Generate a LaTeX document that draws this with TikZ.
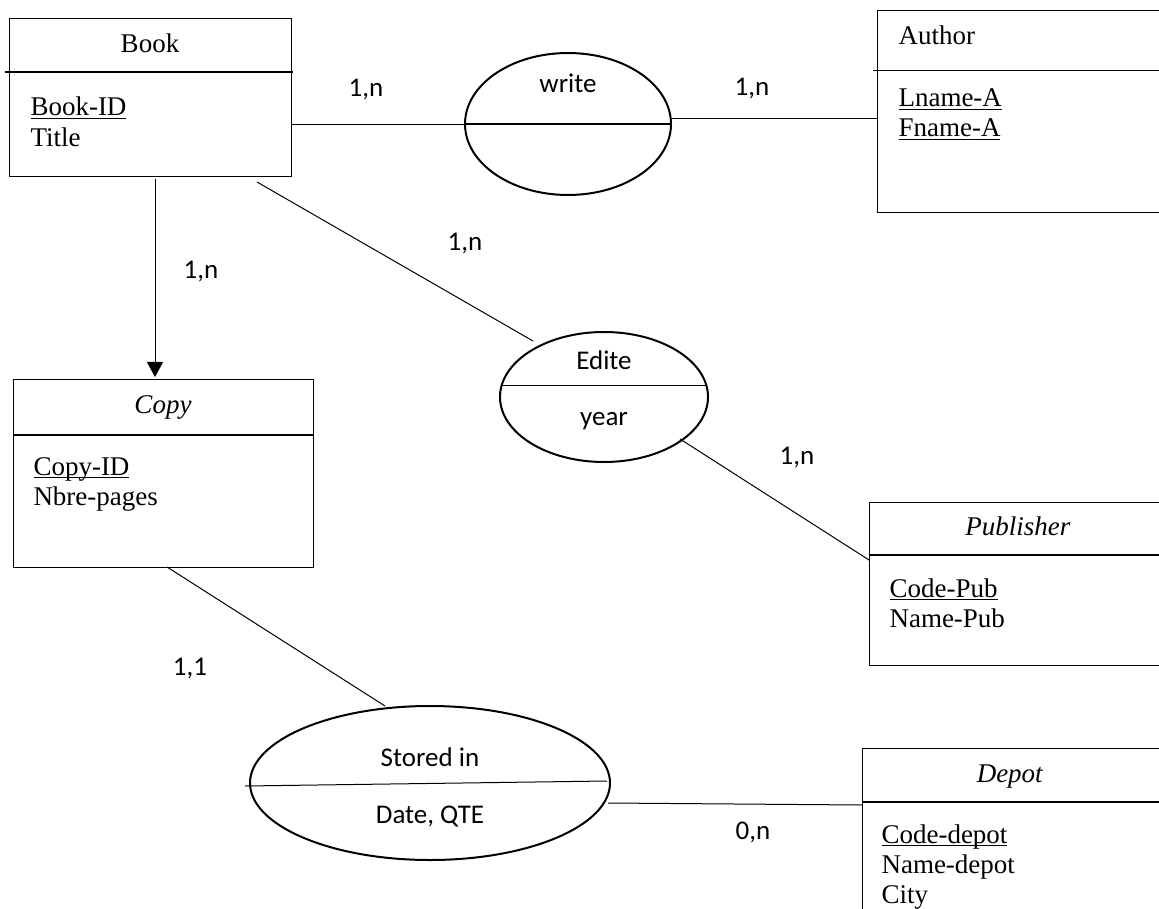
\documentclass[tikz,border=0pt]{standalone}
\usepackage{fontspec}
\setmainfont{Liberation Serif}
\newfontfamily\calibri{Carlito}
\usetikzlibrary{arrows.meta}

% 主键下划线
\newcommand{\pkey}[1]{\setbox0\hbox{#1}\rlap{\rule[-1.5pt]{\wd0}{0.6pt}}\box0}

\tikzset{
    entity/.style={font=\fontsize{13.5}{16}\selectfont, inner sep=0pt, anchor=base},
    attrib/.style={entity, anchor=base west},
    relname/.style={font=\calibri\fontsize{13.5}{16}\selectfont, inner sep=0pt, anchor=base},
    card/.style={relname},
    rel/.style={line width=1pt},
    sep/.style={line width=0.8pt},
}

\begin{document}
\begin{tikzpicture}[x=0.5pt, y=-0.5pt, line width=0.5pt]
    \useasboundingbox (0, 0) rectangle (1159, 908);

    % 实体框
    \draw (9, 19) rectangle (291, 177);
    \draw[sep] (5, 72) -- (293, 72);
    \node[entity] (book) at (150, 53) {Book};
    \node[attrib] (bookid) at (30, 116) {\pkey{Book-ID}};
    \node[attrib] (title) at (30, 147) {Title};

    \draw (877, 11) rectangle (1165, 213);
    \draw (873, 71) -- (1165, 71);
    \node[entity, anchor=base west] (author) at (898, 45) {Author};
    \node[attrib] (lname) at (898, 107) {\pkey{Lname-A}};
    \node[attrib] (fname) at (898, 137) {\pkey{Fname-A}};

    \draw (13, 379) rectangle (313, 567);
    \draw[sep] (13, 435) -- (313, 435);
    \node[entity] (copy) at (163, 413) {\textit{Copy}};
    \node[attrib] (copyid) at (33, 475) {\pkey{Copy-ID}};
    \node[attrib] (pages) at (33, 505) {Nbre-pages};

    \draw (869, 502) rectangle (1165, 665);
    \draw[sep] (869, 555) -- (1165, 555);
    \node[entity] (publisher) at (1018, 535) {\textit{Publisher}};
    \node[attrib] (codepub) at (889, 597) {\pkey{Code-Pub}};
    \node[attrib] (namepub) at (889, 627) {Name-Pub};

    \draw (1165, 748) -- (862, 748) -- (862, 915);
    \draw[sep] (862, 802) -- (1165, 802);
    \node[entity] (depot) at (1010, 782) {\textit{Depot}};
    \node[attrib] (codedepot) at (881, 843) {\pkey{Code-depot}};
    \node[attrib] (namedepot) at (881, 873) {Name-depot};
    \node[attrib] (city) at (881, 903) {City};

    % 关系椭圆
    \coordinate (W) at (568, 124);
    \coordinate (E) at (604, 397);
    \coordinate (S) at (430, 783);

    \draw[rel] (W) ellipse (103 and 71);
    \draw[sep] (465, 124) -- (671, 124);
    \node[relname] (write) at (568, 93) {write};

    \draw[rel] (E) ellipse (104 and 65);
    \draw (501, 385) -- (707, 385);
    \node[relname] (edite) at (604, 370) {Edite};
    \node[relname] (year) at (604, 425) {year};

    \draw[rel] (S) ellipse (180 and 77);
    \draw (245, 786) -- (607, 781);
    \node[relname] (stored) at (430, 766) {Stored in};
    \node[relname] (dateqte) at (430, 823) {Date, QTE};

    % 连线端点
    \coordinate (bookE) at (291, 125);
    \coordinate (writeW) at (465, 125);
    \coordinate (writeE) at (672, 119);
    \coordinate (authorW) at (877, 119);
    \coordinate (bookS) at (155, 179);
    \coordinate (copyN) at (155, 377);
    \coordinate (bookSE) at (257, 182);
    \coordinate (editeNW) at (533, 341);
    \coordinate (editeSE) at (680, 439);
    \coordinate (pubW) at (869, 560);
    \coordinate (copyS) at (167, 567);
    \coordinate (storedN) at (385, 706);
    \coordinate (storedE) at (608, 803);
    \coordinate (depotW) at (862, 805);

    \draw (bookE) -- (writeW);
    \draw (writeE) -- (authorW);
    \draw[-{Triangle[length=7.5pt, width=8pt]}] (bookS) -- (copyN);
    \draw (bookSE) -- (editeNW);
    \draw (editeSE) -- (pubW);
    \draw (copyS) -- (storedN);
    \draw (storedE) -- (depotW);

    % 基数
    \node[card] (c1) at (366, 97) {1,n};
    \node[card] (c2) at (752, 96) {1,n};
    \node[card] (c3) at (201, 279) {1,n};
    \node[card] (c4) at (465, 251) {1,n};
    \node[card] (c5) at (797, 464) {1,n};
    \node[card] (c6) at (190, 675) {1,1};
    \node[card] (c7) at (753, 839) {0,n};
\end{tikzpicture}
\end{document}
